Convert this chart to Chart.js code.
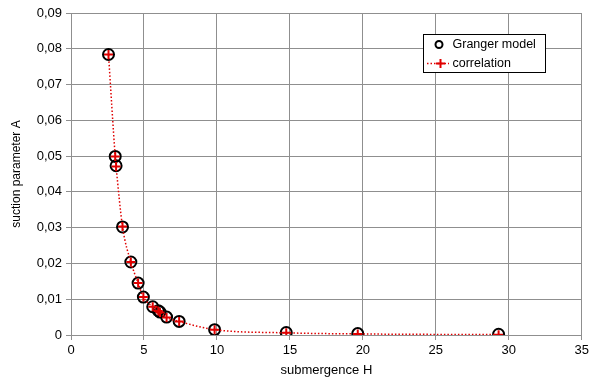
<!DOCTYPE html>
<html>
<head>
<meta charset="utf-8">
<script src="https://cdn.jsdelivr.net/npm/chart.js@4/dist/chart.umd.min.js"></script>
<style>
  html, body { margin: 0; padding: 0; background: #fff; }
  #wrap { width: 592px; height: 378px; }
</style>
</head>
<body>
<div id="wrap"><canvas id="c" width="592" height="378"></canvas></div>
<script>
// submergence H and suction parameter A from the Granger model
const submergenceH = [2.57, 3.03, 3.09, 3.53, 4.1, 4.6, 4.96, 5.6, 5.98, 6.1, 6.55, 7.41, 9.84, 14.75, 19.65, 29.3];
const grangerA     = [0.0784, 0.0499, 0.0473, 0.0302, 0.0204, 0.0145, 0.0106, 0.0079, 0.0068, 0.0064, 0.0050, 0.0038, 0.0015, 0.0007, 0.0004, 0.0002];
// fitted correlation at the same submergences
const correlationA = [0.0784, 0.0499, 0.0471, 0.0303, 0.0204, 0.0145, 0.0106, 0.0079, 0.0067, 0.0063, 0.0049, 0.0038, 0.0015, 0.0006, 0.0003, 0.0001];

const xTicks = [0, 5, 10, 15, 20, 25, 30, 35];
const yTicks = [0, 0.01, 0.02, 0.03, 0.04, 0.05, 0.06, 0.07, 0.08, 0.09];

const FONT = 'Liberation Sans, Arial, sans-serif';
const GRID = '#8f8f8f';

const pts = (xs, ys) => xs.map((x, i) => ({ x, y: ys[i] }));
const fmt = v => (v === 0 ? '0' : v.toFixed(2).replace('.', ','));

// legend box drawn inside the plot area
const innerLegend = {
  id: 'innerLegend',
  afterDraw(chart) {
    const ctx = chart.ctx;
    const x0 = 423, y0 = 34, w = 122, h = 38;
    ctx.save();
    ctx.fillStyle = '#fff';
    ctx.fillRect(x0, y0, w, h);
    ctx.strokeStyle = '#000';
    ctx.lineWidth = 1;
    ctx.strokeRect(x0 + 0.5, y0 + 0.5, w, h);
    ctx.font = '12.5px ' + FONT;
    ctx.fillStyle = '#000';
    ctx.textBaseline = 'middle';
    // Granger model entry
    ctx.beginPath();
    ctx.arc(439, 44.5, 3.5, 0, Math.PI * 2);
    ctx.lineWidth = 2;
    ctx.strokeStyle = '#000';
    ctx.stroke();
    ctx.fillText('Granger model', 452.5, 45);
    // correlation entry
    ctx.setLineDash([1.5, 2]);
    ctx.strokeStyle = '#e00000';
    ctx.lineWidth = 1.5;
    ctx.beginPath();
    ctx.moveTo(427, 63.5);
    ctx.lineTo(449, 63.5);
    ctx.stroke();
    ctx.setLineDash([]);
    ctx.lineWidth = 2;
    ctx.beginPath();
    ctx.moveTo(436, 63.5); ctx.lineTo(445, 63.5);
    ctx.moveTo(440.5, 59); ctx.lineTo(440.5, 68);
    ctx.stroke();
    ctx.fillText('correlation', 452.5, 63.5);
    ctx.restore();
  }
};

new Chart(document.getElementById('c'), {
  type: 'scatter',
  data: {
    datasets: [
      {
        label: 'correlation',
        data: pts(submergenceH, correlationA),
        showLine: true,
        borderColor: '#e00000',
        borderWidth: 1.5,
        borderDash: [1.5, 2],
        cubicInterpolationMode: 'monotone',
        pointStyle: 'cross',
        pointRadius: 4.5,
        pointBorderWidth: 2,
        pointBorderColor: '#e00000',
        pointBackgroundColor: '#e00000',
        order: 0
      },
      {
        label: 'Granger model',
        data: pts(submergenceH, grangerA),
        showLine: false,
        pointStyle: 'circle',
        pointRadius: 5.5,
        pointBorderWidth: 2,
        pointBorderColor: '#000',
        pointBackgroundColor: 'rgba(0,0,0,0)',
        order: 1
      }
    ]
  },
  options: {
    responsive: false,
    animation: false,
    layout: { padding: { left: 0, right: 8, top: 13, bottom: 0 } },
    plugins: { legend: { display: false }, tooltip: { enabled: false } },
    scales: {
      x: {
        type: 'linear',
        min: 0, max: 35,
        afterBuildTicks: s => { s.ticks = xTicks.map(v => ({ value: v })); },
        afterFit: s => { s.height = 43; },
        ticks: { color: '#000', font: { family: FONT, size: 13 }, padding: 3, maxRotation: 0 },
        grid: { color: GRID, lineWidth: 1, tickLength: 5, tickColor: GRID },
        border: { color: GRID, width: 1 },
        title: { display: true, text: 'submergence H', color: '#000', font: { family: FONT, size: 13 }, padding: { top: 2, bottom: 0 } }
      },
      y: {
        type: 'linear',
        min: 0, max: 0.09,
        afterBuildTicks: s => { s.ticks = yTicks.map(v => ({ value: v })); },
        afterFit: s => { s.width = 71; },
        ticks: { color: '#000', font: { family: FONT, size: 13 }, padding: 4, callback: v => fmt(v) },
        grid: { color: GRID, lineWidth: 1, tickLength: 5, tickColor: GRID },
        border: { color: GRID, width: 1 },
        title: { display: true, text: 'suction parameter A', color: '#000', font: { family: FONT, size: 12 }, padding: { top: 9, bottom: 4 } }
      }
    }
  },
  plugins: [innerLegend]
});
</script>
</body>
</html>
